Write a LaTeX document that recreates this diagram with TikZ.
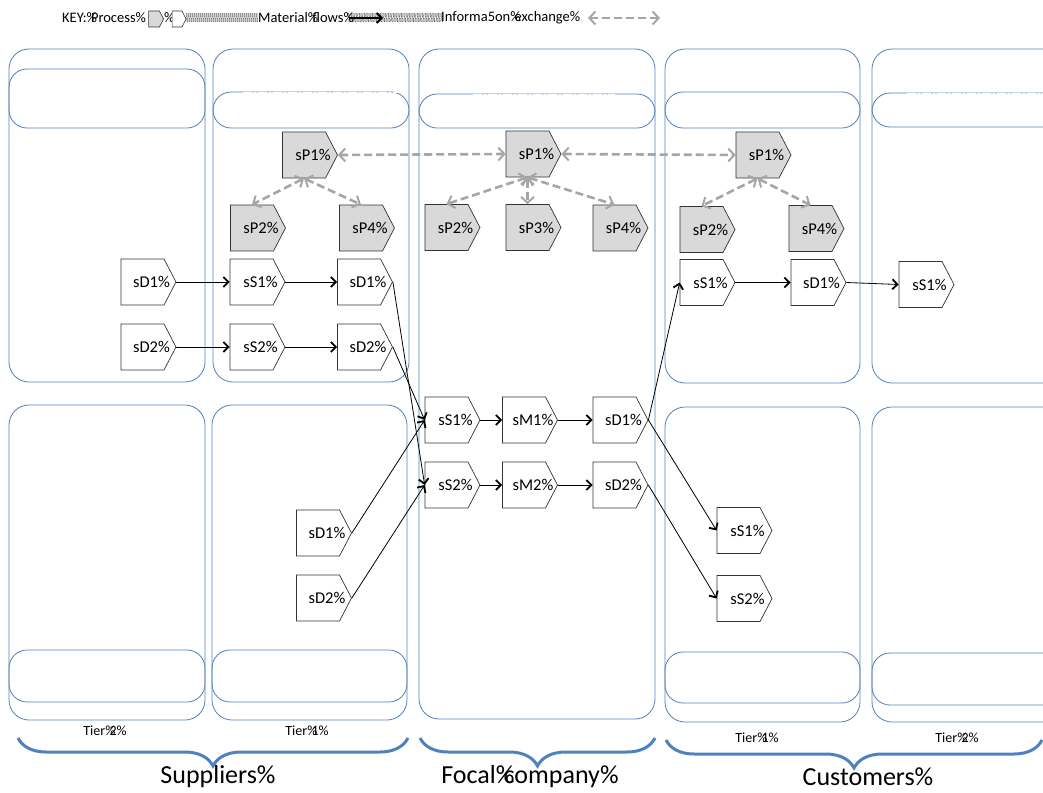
\documentclass[tikz,border=0pt]{standalone}
\usepackage{fontspec}
\usepackage{graphicx}
\setmainfont{Carlito}
\usetikzlibrary{shapes.symbols,arrows.meta,decorations.pathreplacing}

\definecolor{laneblue}{HTML}{4F81BD}
\definecolor{procgrey}{HTML}{D9D9D9}
\definecolor{infogrey}{HTML}{A6A6A6}

\newcommand{\pc}{\makebox[0.3em][l]{\%}}
\newcommand{\hatch}[1]{\resizebox{#1}{9pt}{\%\%\%\%\%\%\%\%\%\%\%\%\%\%\%\%\%\%\%\%\%\%\%\%\%\%\%\%\%\%\%\%\%\%\%\%}}

\tikzset{
  lane/.style={draw=laneblue, line width=0.8pt, rounded corners=20pt},
  band/.style={draw=laneblue, line width=0.8pt, rounded corners=18pt},
  gap/.style={draw=white, line width=1pt, dash pattern=on 9pt off 2pt on 2pt off 2pt},
  proc/.style={draw=black!80, fill=white, line width=0.7pt, shape=signal, signal to=east,
    signal pointer angle=125, minimum width=55pt, minimum height=46pt, inner sep=0pt,
    label={[font=\fontsize{16.5}{19}\selectfont, inner sep=0pt, xshift=9pt]center:#1}},
  pgrey/.style={proc=#1, fill=procgrey},
  keytext/.style={anchor=west, inner sep=0, font=\fontsize{14.5}{17}\selectfont},
  tiertext/.style={font=\fontsize{14}{16}\selectfont},
  grouptext/.style={font=\fontsize{26}{30}\selectfont},
  flow/.style={draw=black, line width=0.8pt, -{Straight Barb[length=5pt,width=10pt,line width=1.8pt]}},
  info/.style={draw=infogrey, line width=2.6pt, dash pattern=on 8pt off 4pt,
    {Straight Barb[length=6pt,width=13pt,line width=2pt]}-{Straight Barb[length=6pt,width=13pt,line width=2pt]}},
  brace/.style={draw=laneblue, line width=3pt, decorate,
    decoration={brace, mirror, amplitude=28pt}},
}

\begin{document}
\begin{tikzpicture}[x=1pt, y=-1pt]
\useasboundingbox (0,0) rectangle (1043,792);
\clip (0,0) rectangle (1043,792);

% key
\node[keytext] (keytxt) at (62,18) {KEY:\pc Process\pc};
\node[pgrey={}, minimum width=15pt, minimum height=16pt, line width=0.6pt] (keygrey) at (154,19) {};
\node[keytext] (keypc) at (164,18) {\%};
\node[proc={}, minimum width=14pt, minimum height=16pt, line width=0.6pt] (keywhite) at (177,19) {};
\node[anchor=west, inner sep=0] (hatchA) at (186,18) {\hatch{72pt}};
\node[keytext] (keymat) at (258,18) {Material\pc flows\pc};
\node[anchor=west, inner sep=0] (hatchB) at (348,18) {\hatch{95pt}};
\coordinate (matA) at (349,18);
\coordinate (matB) at (383,18);
\draw[flow, line width=1.4pt] (matA) -- (matB);
\node[keytext] (keyinf) at (441,18) {Informa5on\pc exchange\pc};
\coordinate (infA) at (588,18);
\coordinate (infB) at (660,18);
\draw[info, line width=2pt] (infA) -- (infB);

% lanes
\draw[lane] (9,49) rectangle (205,382);
\draw[band] (9,69) rectangle (205,128);
\draw[lane] (213,49) rectangle (409,382);
\draw[band] (213,92) rectangle (409,128);
\draw[gap] (243,92) -- (400,92);
\draw[lane] (9,405) rectangle (205,720);
\draw[band] (9,650) rectangle (205,702);
\draw[lane] (212,405) rectangle (407,720);
\draw[band] (212,650) rectangle (407,702);
\draw[lane] (419,49) rectangle (655,719);
\draw[band] (419,94) rectangle (655,128);
\draw[gap] (473,94) -- (615,94);
\draw[lane] (665,49) rectangle (860,383);
\draw[band] (665,92) rectangle (860,128);
\draw[lane] (872,49) rectangle (1065,383);
\draw[band] (872,93) rectangle (1065,127);
\draw[gap] (907,93) -- (1043,93);
\draw[lane] (665,407) rectangle (860,722);
\draw[band] (665,652) rectangle (860,703);
\draw[lane] (872,407) rectangle (1065,722);
\draw[band] (872,653) rectangle (1065,705);

% suppliers, tier 2
\node[proc={sD1\%}] (sDa) at (142.5,282) {};
\node[proc={sD2\%}] (sDb) at (142.5,347) {};

% suppliers, tier 1
\node[pgrey={sP1\%}] (sP1) at (304,155) {};
\node[pgrey={sP2\%}] (sP2) at (252,228) {};
\node[pgrey={sP4\%}] (sP4) at (361,228) {};
\node[proc={sS1\%}] (sS1) at (251.5,282) {};
\node[proc={sD1\%}] (sD1) at (359,282) {};
\node[proc={sS2\%}] (sS2) at (251.5,347) {};
\node[proc={sD2\%}] (sD2) at (359,347) {};
\node[proc={sD1\%}] (lD1) at (318,533) {};
\node[proc={sD2\%}] (lD2) at (318,598) {};

% focal company
\node[pgrey={sP1\%}] (fP1) at (527.5,154) {};
\node[pgrey={sP2\%}] (fP2) at (446.5,227.5) {};
\node[pgrey={sP3\%}] (fP3) at (527.5,227.5) {};
\node[pgrey={sP4\%}] (fP4) at (614.5,228) {};
\node[proc={sS1\%}] (fS1) at (446.5,420) {};
\node[proc={sM1\%}] (fM1) at (524,420) {};
\node[proc={sD1\%}] (fD1) at (614.5,420) {};
\node[proc={sS2\%}] (fS2) at (446.5,485) {};
\node[proc={sM2\%}] (fM2) at (524,485) {};
\node[proc={sD2\%}] (fD2) at (614.5,485) {};

% customers, tier 1
\node[pgrey={sP1\%}] (cP1) at (757.5,155) {};
\node[pgrey={sP2\%}] (cP2) at (701.5,229.5) {};
\node[pgrey={sP4\%}] (cP4) at (810.5,228.5) {};
\node[proc={sS1\%}] (cS1) at (701.5,282.5) {};
\node[proc={sD1\%}] (cD1) at (812.5,282.5) {};
\node[proc={sS1\%}] (lS1) at (738.5,530.5) {};
\node[proc={sS2\%}] (lS2) at (738.5,598.5) {};

% customers, tier 2
\node[proc={sS1\%}] (tS1) at (920.5,284.5) {};

% material flows
\draw[flow] (sDa.east) -- (sS1.west);
\draw[flow] (sDb.east) -- (sS2.west);
\draw[flow] (sS1.east) -- (sD1.west);
\draw[flow] (sS2.east) -- (sD2.west);
\draw[flow] (sD1.east) -- (fS2.west);
\draw[flow] (sD2.east) -- (fS1.west);
\draw[flow] (lD1.east) -- (fS1.west);
\draw[flow] (lD2.east) -- (fS2.west);
\draw[flow] (fS1.east) -- (fM1.west);
\draw[flow] (fM1.east) -- (fD1.west);
\draw[flow] (fS2.east) -- (fM2.west);
\draw[flow] (fM2.east) -- (fD2.west);
\draw[flow] (fD1.east) -- (cS1.west);
\draw[flow] (fD1.east) -- (lS1.west);
\draw[flow] (fD2.east) -- (lS2.west);
\draw[flow] (cS1.east) -- (cD1.west);
\draw[flow] (cD1.east) -- (tS1.west);

% information exchange
\draw[info] (sP1.east) -- (fP1.west);
\draw[info] (fP1.east) -- (cP1.west);
\draw[info] (sP1.south) -- (sP2.north);
\draw[info] (sP1.south) -- (sP4.north);
\draw[info] (fP1.south) -- (fP2.north);
\draw[info] (fP1.south) -- (fP3.north);
\draw[info] (fP1.south) -- (fP4.north);
\draw[info] (cP1.south) -- (cP2.north);
\draw[info] (cP1.south) -- (cP4.north);

% tiers and groups
\node[tiertext] (t2s) at (105,731) {Tier\pc 2\%};
\node[tiertext] (t1s) at (307,731) {Tier\pc 1\%};
\node[tiertext] (t1c) at (757,738) {Tier\pc 1\%};
\node[tiertext] (t2c) at (957,738) {Tier\pc 2\%};
\draw[brace] (18,738) -- (408,738);
\draw[brace] (420,738) -- (655,738);
\draw[brace] (666,740) -- (1042,740);
\node[grouptext] (sup) at (218,777) {Suppliers\%};
\node[grouptext] (foc) at (530,777) {Focal\pc company\%};
\node[grouptext] (cus) at (868,777) {Customers\%};
\end{tikzpicture}
\end{document}
